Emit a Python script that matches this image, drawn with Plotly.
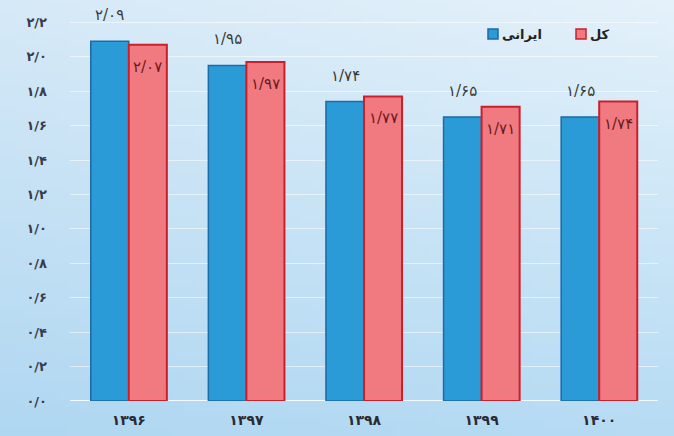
import base64
import struct
import zlib

import plotly.graph_objects as go

# ---------------- data ----------------
years = ["۱۳۹۶", "۱۳۹۷", "۱۳۹۸", "۱۳۹۹", "۱۴۰۰"]
iranian = [2.09, 1.95, 1.74, 1.65, 1.65]
total = [2.07, 1.97, 1.77, 1.71, 1.74]
y_ticks = [0.0, 0.2, 0.4, 0.6, 0.8, 1.0, 1.2, 1.4, 1.6, 1.8, 2.0, 2.2]
series_names = ["ایرانی", "کل"]

FA_DIGITS = str.maketrans("0123456789.", "۰۱۲۳۴۵۶۷۸۹/")


def fa(v, nd):
    return f"{v:.{nd}f}".translate(FA_DIGITS)


# ---------------- background gradient (PNG data URI) ----------------
def make_png(w, h):
    tl, bl, tr, br = (214, 233, 247), (176, 215, 241), (228, 241, 250), (182, 219, 243)
    rows = []
    for j in range(h):
        fy = j / (h - 1)
        row = bytearray([0])
        for i in range(w):
            fx = i / (w - 1)
            px = []
            for k in range(3):
                top = tl[k] * (1 - fx) + tr[k] * fx
                bot = bl[k] * (1 - fx) + br[k] * fx
                px.append(int(round(top * (1 - fy) + bot * fy)))
            row += bytes(px)
        rows.append(bytes(row))
    raw = b"".join(rows)

    def chunk(tag, data):
        c = tag + data
        return struct.pack(">I", len(data)) + c + struct.pack(">I", zlib.crc32(c) & 0xFFFFFFFF)

    png = b"\x89PNG\r\n\x1a\n"
    png += chunk(b"IHDR", struct.pack(">IIBBBBB", w, h, 8, 2, 0, 0, 0))
    png += chunk(b"IDAT", zlib.compress(raw, 9))
    png += chunk(b"IEND", b"")
    return "data:image/png;base64," + base64.b64encode(png).decode()


bg_src = make_png(64, 64)

# ---------------- layout geometry ----------------
W, H = 674, 436
ML, MR, MT, MB = 70, 16, 0, 35
PW, PH = W - ML - MR, H - MT - MB


def px_to_paper_x(px):
    return (px - ML) / PW


def px_to_paper_y(py):
    return (H - MB - py) / PH


BLUE, BLUE_LINE = "#2b9bd7", "#1c6aa6"
RED, RED_LINE = "#f17a80", "#c9202c"
FONT = "DejaVu Sans"

fig = go.Figure()
fig.add_trace(go.Bar(
    x=years, y=iranian, name=series_names[0],
    marker=dict(color=BLUE, line=dict(color=BLUE_LINE, width=1.5)),
    showlegend=False,
))
fig.add_trace(go.Bar(
    x=years, y=total, name=series_names[1],
    marker=dict(color=RED, line=dict(color=RED_LINE, width=2)),
    showlegend=False,
))

annotations = []
for yr, v in zip(years, iranian):
    annotations.append(dict(
        x=yr, y=v, xref="x", yref="y", text=fa(v, 2), showarrow=False,
        xshift=-19, yshift=26, font=dict(family=FONT, size=15, color="#3a3a3a"),
    ))
for yr, v in zip(years, total):
    annotations.append(dict(
        x=yr, y=v, xref="x", yref="y", text=fa(v, 2), showarrow=False,
        xshift=19, yshift=-22, font=dict(family=FONT, size=15, color="#6a1a1c"),
    ))

# custom legend (square left of the text)
shapes = []
legend_items = [(488, BLUE, BLUE_LINE, series_names[0], 500),
                (576, RED, RED_LINE, series_names[1], 588)]
for sx, fc, lc, label, tx in legend_items:
    shapes.append(dict(
        type="rect", xref="paper", yref="paper",
        x0=px_to_paper_x(sx), x1=px_to_paper_x(sx + 10),
        y0=px_to_paper_y(39), y1=px_to_paper_y(29),
        fillcolor=fc, line=dict(color=lc, width=1.5), layer="above",
    ))
    annotations.append(dict(
        x=px_to_paper_x(tx), y=px_to_paper_y(34), xref="paper", yref="paper",
        xanchor="left", yanchor="middle", text=label, showarrow=False,
        font=dict(family=FONT, size=13, color="#222222", weight="bold"),
    ))

# zero baseline
shapes.append(dict(
    type="line", xref="paper", yref="y", x0=0, x1=1, y0=0, y1=0,
    line=dict(color="rgba(255,255,255,0.85)", width=2), layer="below",
))

fig.update_layout(
    width=W, height=H,
    margin=dict(l=ML, r=MR, t=MT, b=MB),
    paper_bgcolor="#c6e2f4",
    plot_bgcolor="rgba(0,0,0,0)",
    barmode="group",
    bargap=0.353,
    bargroupgap=0,
    annotations=annotations,
    shapes=shapes,
    images=[dict(
        source=bg_src, xref="paper", yref="paper",
        x=-ML / PW, y=1 + MT / PH, sizex=W / PW, sizey=H / PH,
        xanchor="left", yanchor="top", sizing="stretch", layer="below",
    )],
    xaxis=dict(
        showgrid=False, zeroline=False, showline=False, ticks="",
        ticklabelstandoff=9,
        tickfont=dict(family=FONT, size=14, color="#2a2a35", weight="bold"),
    ),
    yaxis=dict(
        range=[0, 2.33],
        tickvals=y_ticks,
        ticktext=[fa(v, 1) for v in y_ticks],
        showgrid=True, gridcolor="rgba(255,255,255,0.55)", gridwidth=1,
        zeroline=False, showline=False, ticks="",
        ticklabelstandoff=22,
        tickfont=dict(family=FONT, size=13, color="#3a3a48", weight="bold"),
    ),
)

fig.write_html(
    "out.html",
    config={"displayModeBar": False},
    post_script="document.body.style.margin='0';",
)
